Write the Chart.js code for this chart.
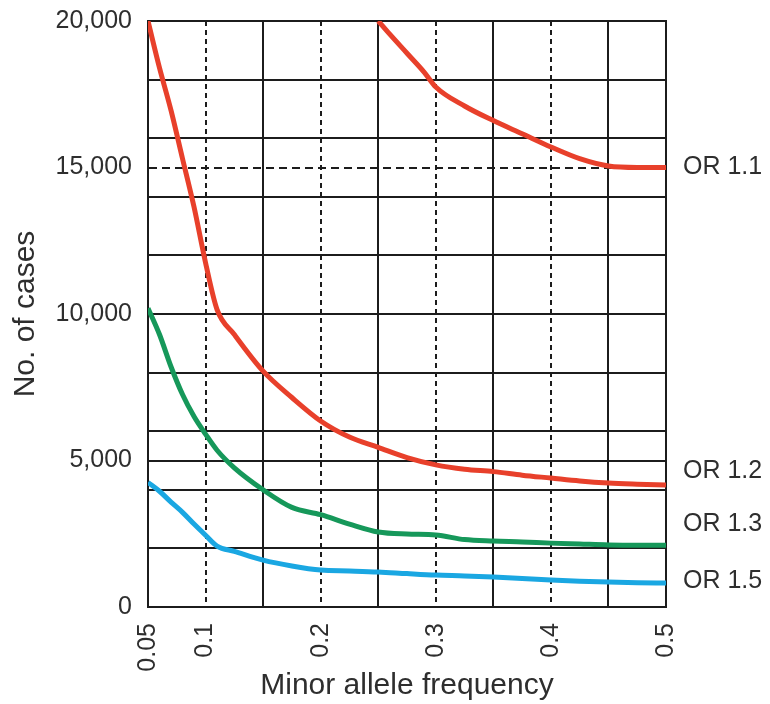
<!DOCTYPE html>
<html>
<head>
<meta charset="utf-8">
<title>No. of cases vs minor allele frequency</title>
<script src="https://cdn.jsdelivr.net/npm/chart.js@4"></script>
<style>
  body { margin: 0; background: #fff; }
</style>
</head>
<body>
<canvas id="casesChart" width="770" height="704"></canvas>
<script>
// minor allele frequency (x) for the lower three curves
const freq = [0.05, 0.06, 0.07, 0.08, 0.09, 0.1, 0.11, 0.125, 0.15, 0.175, 0.2, 0.225,
              0.25, 0.275, 0.3, 0.325, 0.35, 0.375, 0.4, 0.425, 0.45, 0.475, 0.5];
// OR 1.1 only comes into range from 0.25 on
const freqOR11 = [0.25, 0.26, 0.275, 0.29, 0.3, 0.325, 0.35, 0.375, 0.4, 0.425, 0.45, 0.475, 0.5];

const casesOR11 = [20000, 19550, 18900, 18250, 17750, 17100, 16600, 16150, 15700, 15300, 15050, 15000, 15000];
const casesOR12 = [20000, 18400, 16950, 15300, 13650, 11750, 10150, 9300, 8050, 7150, 6350, 5800,
                   5450, 5100, 4850, 4700, 4620, 4500, 4400, 4300, 4230, 4190, 4160];
const casesOR13 = [10200, 9300, 8200, 7250, 6500, 5900, 5350, 4750, 4000, 3400, 3150, 2830,
                   2560, 2490, 2460, 2300, 2250, 2220, 2180, 2150, 2120, 2110, 2110];
const casesOR15 = [4250, 3950, 3580, 3230, 2830, 2450, 2080, 1900, 1600, 1400, 1260, 1230,
                   1195, 1140, 1090, 1060, 1020, 970, 920, 880, 850, 830, 820];

const seriesLabels = ['OR 1.1', 'OR 1.2', 'OR 1.3', 'OR 1.5'];

// tick labels and grid positions
const xTickValues = [0.05, 0.1, 0.2, 0.3, 0.4, 0.5];
const xSolidGrid = [0.15, 0.25, 0.35, 0.45];
const yTickValues = [0, 5000, 10000, 15000, 20000];
const ySolidGrid = [2000, 4000, 5000, 6000, 8000, 10000, 12000, 14000, 16000, 18000];

const ink = '#1c1c1c';
const textColor = '#2e2e2e';
const red = '#e8402b';
const green = '#16985a';
const blue = '#1aa7e2';

Chart.defaults.font.family = '"Liberation Sans", Arial, Helvetica, sans-serif';

const toPoints = (xs, ys) => xs.map((x, i) => ({ x: x, y: ys[i] }));
const setTicks = values => scale => { scale.ticks = values.map(v => ({ value: v })); };

// series names written just right of the plot, next to each curve's end
const endLabels = {
  id: 'endLabels',
  afterDatasetsDraw(chart) {
    const { ctx, chartArea } = chart;
    const nudge = [0, -14, -21, -2]; // keep the three lower labels apart
    ctx.save();
    ctx.font = '25px "Liberation Sans", Arial, sans-serif';
    ctx.fillStyle = textColor;
    ctx.textBaseline = 'middle';
    chart.data.datasets.forEach((ds, i) => {
      const pts = chart.getDatasetMeta(i).data;
      const last = pts[pts.length - 1];
      ctx.fillText(ds.label, chartArea.right + 17, last.y + nudge[i]);
    });
    ctx.restore();
  }
};

const ctx = document.getElementById('casesChart').getContext('2d');
const casesChart = new Chart(ctx, {
  type: 'line',
  data: {
    datasets: [
      { label: seriesLabels[0], data: toPoints(freqOR11, casesOR11), borderColor: red },
      { label: seriesLabels[1], data: toPoints(freq, casesOR12), borderColor: red },
      { label: seriesLabels[2], data: toPoints(freq, casesOR13), borderColor: green },
      { label: seriesLabels[3], data: toPoints(freq, casesOR15), borderColor: blue }
    ]
  },
  options: {
    responsive: false,
    animation: false,
    layout: { padding: 0 },
    elements: {
      line: { borderWidth: 5, cubicInterpolationMode: 'monotone', fill: false },
      point: { radius: 0 }
    },
    plugins: {
      legend: { display: false },
      tooltip: { enabled: false }
    },
    scales: {
      x: {
        type: 'linear',
        position: 'bottom',
        min: 0.05,
        max: 0.5,
        afterBuildTicks: setTicks(xTickValues),
        afterFit: s => { s.height = 97; },
        ticks: {
          autoSkip: false,
          minRotation: 90,
          maxRotation: 90,
          padding: 16,
          color: textColor,
          font: { size: 25 },
          callback: v => String(v)
        },
        grid: {
          drawTicks: false,
          color: ink,
          lineWidth: c => (c.tick && (c.tick.value === 0.05 || c.tick.value === 0.5)) ? 0 : 2
        },
        border: { display: true, color: ink, width: 2, dash: [5, 4] },
        title: {
          display: true,
          text: 'Minor allele frequency',
          color: textColor,
          font: { size: 30 },
          padding: { top: 0, bottom: 0 }
        }
      },
      x2: {
        type: 'linear',
        position: 'top',
        min: 0.05,
        max: 0.5,
        afterBuildTicks: setTicks(xSolidGrid),
        afterFit: s => { s.height = 21; },
        ticks: { display: false },
        grid: { drawTicks: false, color: ink, lineWidth: 2 },
        border: { display: true, color: ink, width: 2 }
      },
      y: {
        type: 'linear',
        position: 'left',
        min: 0,
        max: 20000,
        afterBuildTicks: setTicks(yTickValues),
        afterFit: s => { s.width = 148; },
        ticks: {
          autoSkip: false,
          padding: 0,
          color: textColor,
          font: { size: 25 },
          callback: v => v.toLocaleString('en-US')
        },
        grid: {
          drawTicks: true,
          tickLength: 16,
          tickColor: 'rgba(0,0,0,0)',
          color: ink,
          lineWidth: c => (c.tick && c.tick.value === 15000) ? 2 : 0
        },
        border: { display: true, color: ink, width: 2, dash: [8, 5] },
        title: {
          display: true,
          text: 'No. of cases',
          color: textColor,
          font: { size: 30 },
          padding: { top: 8, bottom: 0 }
        }
      },
      y2: {
        type: 'linear',
        position: 'right',
        min: 0,
        max: 20000,
        afterBuildTicks: setTicks(ySolidGrid),
        afterFit: s => { s.width = 104; },
        ticks: { display: false },
        grid: { drawTicks: false, color: ink, lineWidth: 2 },
        border: { display: true, color: ink, width: 2 }
      }
    }
  },
  plugins: [endLabels]
});
</script>
</body>
</html>
